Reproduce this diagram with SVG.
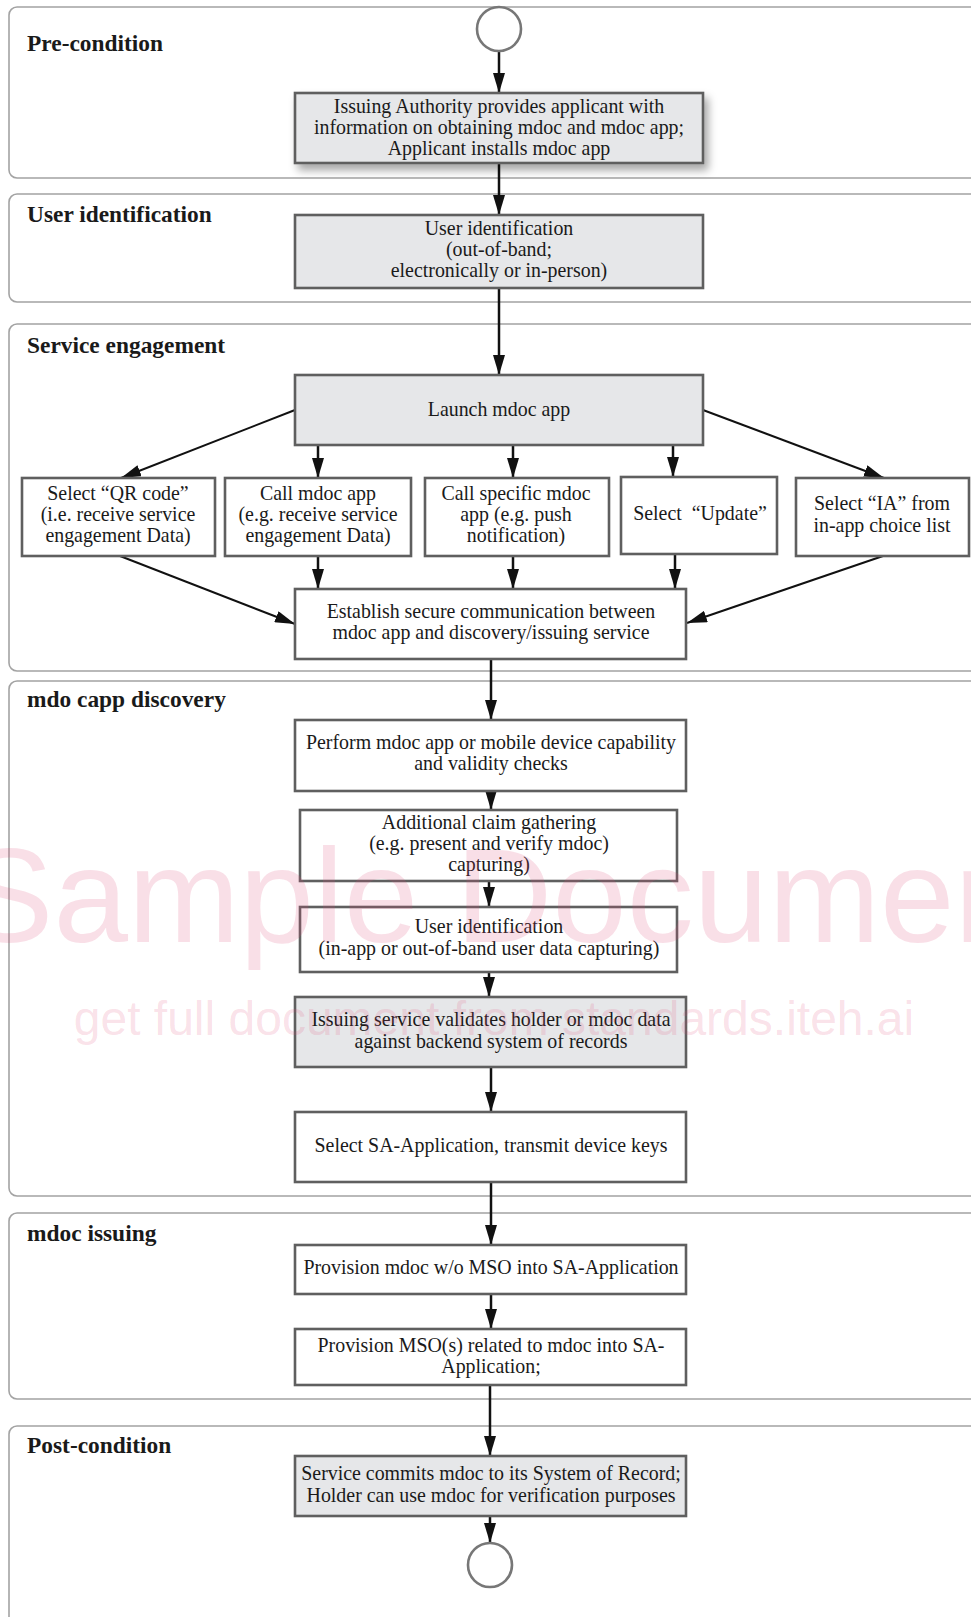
<svg xmlns="http://www.w3.org/2000/svg" width="971" height="1617" viewBox="0 0 971 1617">
<defs>
<style>
.panel{fill:none;stroke:#a3a3a3;stroke-width:1.6}
.title{font-family:"Liberation Serif","Times New Roman",serif;font-weight:bold;font-size:23.4px;fill:#1a1a1a}
.box{fill:#ffffff;stroke:#5f5f5f;stroke-width:2.6}
.gbox{fill:#e6e7e9;stroke:#5f5f5f;stroke-width:2.6}
.t{font-family:"Liberation Serif","Times New Roman",serif;font-size:19.9px;fill:#1a1a1a;text-anchor:middle}
.circ{fill:#ffffff;stroke:#777777;stroke-width:2.6}
.conn line{stroke:#111111;stroke-width:2.5;marker-end:url(#ah)}
.conn line.d{stroke-width:2}
.wm{font-family:"Liberation Sans",Arial,sans-serif;fill:#e0507a;fill-opacity:0.18}
</style>
<marker id="ah" markerUnits="userSpaceOnUse" markerWidth="20" markerHeight="12" refX="20" refY="6" orient="auto">
<path d="M0,0 L20,6 L0,12 z" fill="#111111"/>
</marker>
<filter id="sh" x="-10%" y="-20%" width="130%" height="160%">
<feDropShadow dx="4" dy="6" stdDeviation="4" flood-color="#000000" flood-opacity="0.35"/>
</filter>
</defs>
<rect x="0" y="0" width="971" height="1617" fill="#ffffff"/>

<g id="lanes">
<rect class="panel" x="9" y="7" width="990" height="171" rx="8"/>
<text class="title" x="27" y="51">Pre-condition</text>
<rect class="panel" x="9" y="194" width="990" height="108" rx="8"/>
<text class="title" x="27" y="222">User identification</text>
<rect class="panel" x="9" y="324" width="990" height="347" rx="8"/>
<text class="title" x="27" y="353">Service engagement</text>
<rect class="panel" x="9" y="681" width="990" height="515" rx="8"/>
<text class="title" x="27" y="707">mdo capp discovery</text>
<rect class="panel" x="9" y="1213" width="990" height="186" rx="8"/>
<text class="title" x="27" y="1241">mdoc issuing</text>
<rect class="panel" x="9" y="1426" width="990" height="220" rx="8"/>
<text class="title" x="27" y="1453">Post-condition</text>
</g>

<g id="connectors" class="conn">
<line x1="499" y1="51" x2="499" y2="93"/>
<line x1="499" y1="163" x2="499" y2="215"/>
<line x1="499" y1="288" x2="499" y2="375"/>
<line class="d" x1="295" y1="410" x2="121" y2="478"/>
<line x1="318" y1="445" x2="318" y2="478"/>
<line x1="513" y1="445" x2="513" y2="478"/>
<line x1="673" y1="445" x2="673" y2="477"/>
<line class="d" x1="703" y1="410" x2="884" y2="478"/>
<line class="d" x1="120" y1="556" x2="295" y2="624"/>
<line x1="318" y1="556" x2="318" y2="589"/>
<line x1="513" y1="556" x2="513" y2="589"/>
<line x1="675" y1="554" x2="675" y2="589"/>
<line class="d" x1="883" y1="556" x2="687" y2="623"/>
<line x1="491" y1="659" x2="491" y2="720"/>
<line x1="491" y1="791" x2="491" y2="810"/>
<line x1="489" y1="881" x2="489" y2="907"/>
<line x1="489" y1="972" x2="489" y2="997"/>
<line x1="491" y1="1067" x2="491" y2="1112"/>
<line x1="491" y1="1182" x2="491" y2="1245"/>
<line x1="491" y1="1294" x2="491" y2="1329"/>
<line x1="490" y1="1385" x2="490" y2="1456"/>
<line x1="490" y1="1516" x2="490" y2="1543"/>
</g>

<g id="start"><circle class="circ" cx="499" cy="29" r="22"/></g>

<g id="n-issuing-authority">
<rect class="gbox" x="295" y="93" width="408" height="70" filter="url(#sh)"/>
<text class="t" x="499" y="113">Issuing Authority provides applicant with</text>
<text class="t" x="499" y="134">information on obtaining mdoc and mdoc app;</text>
<text class="t" x="499" y="155">Applicant installs mdoc app</text>
</g>

<g id="n-user-identification">
<rect class="gbox" x="295" y="215" width="408" height="73"/>
<text class="t" x="499" y="235">User identification</text>
<text class="t" x="499" y="256">(out-of-band;</text>
<text class="t" x="499" y="277">electronically or in-person)</text>
</g>

<g id="n-launch">
<rect class="gbox" x="295" y="375" width="408" height="70"/>
<text class="t" x="499" y="416">Launch mdoc app</text>
</g>

<g id="n-qr">
<rect class="box" x="22" y="478" width="193" height="78"/>
<text class="t" x="118" y="500">Select “QR code”</text>
<text class="t" x="118" y="521">(i.e. receive service</text>
<text class="t" x="118" y="542">engagement Data)</text>
</g>

<g id="n-call">
<rect class="box" x="225" y="478" width="186" height="78"/>
<text class="t" x="318" y="500">Call mdoc app</text>
<text class="t" x="318" y="521">(e.g. receive service</text>
<text class="t" x="318" y="542">engagement Data)</text>
</g>

<g id="n-call-specific">
<rect class="box" x="425" y="478" width="184" height="78"/>
<text class="t" x="516" y="500">Call specific mdoc</text>
<text class="t" x="516" y="521">app (e.g. push</text>
<text class="t" x="516" y="542">notification)</text>
</g>

<g id="n-update">
<rect class="box" x="621" y="477" width="156" height="77"/>
<text class="t" x="700" y="520">Select &#160;“Update”</text>
</g>

<g id="n-ia">
<rect class="box" x="796" y="478" width="173" height="78"/>
<text class="t" x="882" y="510">Select “IA” from</text>
<text class="t" x="882" y="532">in-app choice list</text>
</g>

<g id="n-establish">
<rect class="box" x="295" y="589" width="391" height="70"/>
<text class="t" x="491" y="618">Establish secure communication between</text>
<text class="t" x="491" y="639">mdoc app and discovery/issuing service</text>
</g>

<g id="n-perform">
<rect class="box" x="295" y="720" width="391" height="71"/>
<text class="t" x="491" y="749">Perform mdoc app or mobile device capability</text>
<text class="t" x="491" y="770">and validity checks</text>
</g>

<g id="n-additional">
<rect class="box" x="300" y="810" width="377" height="71"/>
<text class="t" x="489" y="829">Additional claim gathering</text>
<text class="t" x="489" y="850">(e.g. present and verify mdoc)</text>
<text class="t" x="489" y="871">capturing)</text>
</g>

<g id="n-user-identification-2">
<rect class="box" x="300" y="907" width="377" height="65"/>
<text class="t" x="489" y="933">User identification</text>
<text class="t" x="489" y="955">(in-app or out-of-band user data capturing)</text>
</g>

<g id="n-validates">
<rect class="gbox" x="295" y="997" width="391" height="70"/>
<text class="t" x="491" y="1026">Issuing service validates holder or mdoc data</text>
<text class="t" x="491" y="1048">against backend system of records</text>
</g>

<g id="n-select-sa">
<rect class="box" x="295" y="1112" width="391" height="70"/>
<text class="t" x="491" y="1152">Select SA-Application, transmit device keys</text>
</g>

<g id="n-provision-mdoc">
<rect class="box" x="295" y="1245" width="391" height="49"/>
<text class="t" x="491" y="1274">Provision mdoc w/o MSO into SA-Application</text>
</g>

<g id="n-provision-mso">
<rect class="box" x="295" y="1329" width="391" height="56"/>
<text class="t" x="491" y="1352">Provision MSO(s) related to mdoc into SA-</text>
<text class="t" x="491" y="1373">Application;</text>
</g>

<g id="n-commits">
<rect class="gbox" x="295" y="1456" width="391" height="60"/>
<text class="t" x="491" y="1480">Service commits mdoc to its System of Record;</text>
<text class="t" x="491" y="1502">Holder can use mdoc for verification purposes</text>
</g>

<g id="end"><circle class="circ" cx="490" cy="1565" r="22"/></g>

<g id="watermark">
<text class="wm" x="-36" y="942" font-size="134">Sample Document</text>
<text class="wm" x="494" y="1035" font-size="48" text-anchor="middle">get full document from standards.iteh.ai</text>
</g>
</svg>
